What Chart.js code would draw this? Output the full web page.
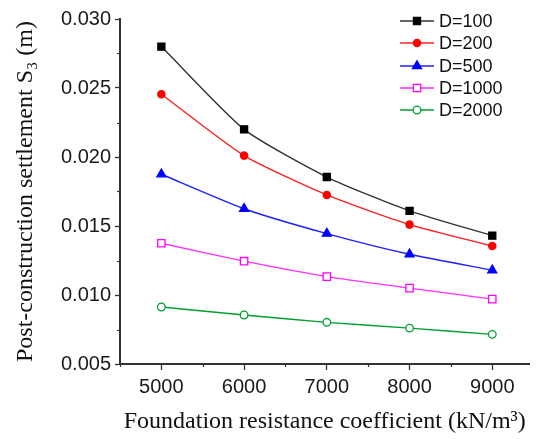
<!DOCTYPE html>
<html>
<head>
<meta charset="utf-8">
<script src="https://cdn.jsdelivr.net/npm/chart.js@4/dist/chart.umd.min.js"></script>
<style>
html,body{margin:0;padding:0;background:#fff;}
#wrap{width:536px;height:439px;position:relative;}
</style>
</head>
<body>
<div id="wrap"><canvas id="c" width="536" height="439"></canvas></div>
<script>
const categories = [5000, 6000, 7000, 8000, 9000];
const seriesNames = ['D=100', 'D=200', 'D=500', 'D=1000', 'D=2000'];
const d100  = [0.0280, 0.0220, 0.01855, 0.0161, 0.0143];
const d200  = [0.02455, 0.0201, 0.01725, 0.0151, 0.01355];
const d500  = [0.01875, 0.01625, 0.01445, 0.01295, 0.0118];
const d1000 = [0.01375, 0.01245, 0.01133, 0.0105, 0.0097];
const d2000 = [0.00913, 0.00855, 0.00802, 0.0076, 0.00715];
const xTicks = [5000, 6000, 7000, 8000, 9000];
const yTicks = [0.005, 0.010, 0.015, 0.020, 0.025, 0.030];

const styles = [
  {color:'#000000', line:'#333333', ps:'rect', r:5, fill:true},
  {color:'#ff0000', line:'#ff2020', ps:'circle', r:3.6, fill:true},
  {color:'#0000ff', line:'#2020ff', ps:'triangle', r:5.2, fill:true},
  {color:'#ff00ff', line:'#ff30ff', ps:'rect', r:5.2, fill:false},
  {color:'#00a030', line:'#00a030', ps:'circle', r:3.8, fill:false}
];
const allData = [d100, d200, d500, d1000, d2000];

const datasets = allData.map((arr, i) => ({
  label: seriesNames[i],
  data: categories.map((x, j) => ({x: x, y: arr[j]})),
  borderColor: styles[i].line,
  borderWidth: 1.4,
  pointStyle: styles[i].ps,
  pointRadius: styles[i].r,
  pointHoverRadius: styles[i].r,
  pointBorderColor: styles[i].color,
  pointBackgroundColor: styles[i].fill ? styles[i].color : '#ffffff',
  pointBorderWidth: 1.3,
  tension: 0.2
}));

const minorTicks = {
  id: 'minorTicks',
  afterDraw(chart) {
    const ctx = chart.ctx;
    const xs = chart.scales.x, ys = chart.scales.y;
    ctx.save();
    ctx.strokeStyle = '#333333';
    ctx.lineWidth = 1.2;
    const bottom = chart.chartArea.bottom, left = chart.chartArea.left;
    [4500, 5500, 6500, 7500, 8500].forEach(v => {
      const x = Math.round(xs.getPixelForValue(v)) + 0.5;
      ctx.beginPath(); ctx.moveTo(x, bottom); ctx.lineTo(x, bottom + 3); ctx.stroke();
    });
    [0.0075, 0.0125, 0.0175, 0.0225, 0.0275].forEach(v => {
      const y = Math.round(ys.getPixelForValue(v)) + 0.5;
      ctx.beginPath(); ctx.moveTo(left, y); ctx.lineTo(left - 3, y); ctx.stroke();
    });
    ctx.restore();
  }
};

const customLegend = {
  id: 'customLegend',
  afterDraw(chart) {
    const ctx = chart.ctx;
    ctx.save();
    const x0 = 400, x1 = 434, tx = 439;
    const ys0 = [21, 43, 66, 88, 110];
    chart.data.datasets.forEach((ds, i) => {
      const y = ys0[i];
      ctx.strokeStyle = ds.borderColor;
      ctx.lineWidth = 1.6;
      ctx.beginPath(); ctx.moveTo(x0, y); ctx.lineTo(x1, y); ctx.stroke();
      ctx.fillStyle = ds.pointBackgroundColor;
      ctx.strokeStyle = ds.pointBorderColor;
      ctx.lineWidth = ds.pointBorderWidth;
      Chart.helpers.drawPoint(ctx, {
        pointStyle: ds.pointStyle, radius: ds.pointRadius, borderWidth: ds.pointBorderWidth, rotation: 0
      }, (x0 + x1) / 2, y);
      ctx.fillStyle = '#111111';
      ctx.font = '18px "Liberation Sans", Arial, sans-serif';
      ctx.textBaseline = 'middle';
      ctx.textAlign = 'left';
      ctx.fillText(ds.label, tx, y + 1);
    });
    ctx.restore();
  }
};

new Chart(document.getElementById('c'), {
  type: 'line',
  data: { datasets },
  options: {
    responsive: false,
    animation: false,
    devicePixelRatio: 1,
    layout: { padding: { top: 19, right: 0, bottom: 0, left: 0 } },
    plugins: { legend: { display: false }, tooltip: { enabled: false } },
    scales: {
      x: {
        type: 'linear',
        min: 4500, max: 9450,
        afterBuildTicks: s => { s.ticks = xTicks.map(v => ({value: v})); },
        afterFit: s => { s.height = 75; },
        border: { display: true, color: '#333333', width: 2 },
        grid: { drawOnChartArea: false, drawTicks: true, tickLength: 6, color: '#333333', tickWidth: 1.3 },
        ticks: {
          padding: 5, color: '#1a1a1a', maxRotation: 0, autoSkip: false,
          font: { family: '"Liberation Sans", Arial, sans-serif', size: 20 },
          callback: v => String(v)
        },
        title: {
          display: true,
          text: 'Foundation resistance coefficient (kN/m\u00B3)',
          color: '#111111',
          font: { family: '"Liberation Serif", "Times New Roman", serif', size: 24 },
          padding: { top: 0, bottom: 3 }
        }
      },
      y: {
        type: 'linear',
        min: 0.005, max: 0.030,
        afterBuildTicks: s => { s.ticks = yTicks.map(v => ({value: v})); },
        afterFit: s => { s.width = 120; },
        border: { display: true, color: '#333333', width: 2 },
        grid: { drawOnChartArea: false, drawTicks: true, tickLength: 5, color: '#333333', tickWidth: 1.3 },
        ticks: {
          padding: 4, color: '#1a1a1a', autoSkip: false,
          font: { family: '"Liberation Sans", Arial, sans-serif', size: 20 },
          callback: v => v.toFixed(3)
        },
        title: {
          display: true,
          text: 'Post-construction settlement S\u2083 (m)',
          color: '#111111',
          font: { family: '"Liberation Serif", "Times New Roman", serif', size: 24 },
          padding: { top: 11, bottom: 0 }
        }
      }
    }
  },
  plugins: [minorTicks, customLegend]
});
</script>
</body>
</html>
